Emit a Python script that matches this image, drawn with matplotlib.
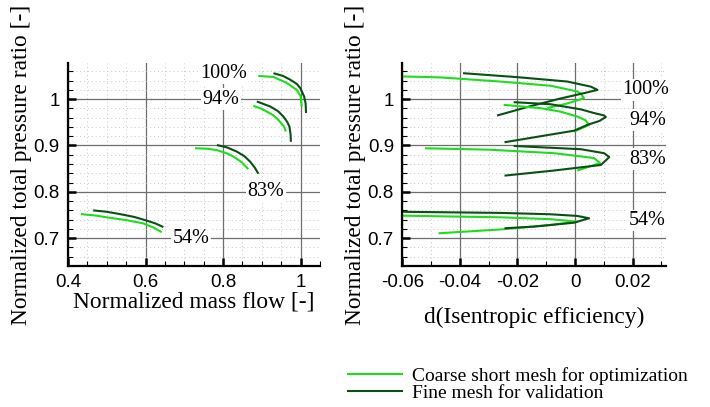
import matplotlib
matplotlib.use('Agg')
import matplotlib.pyplot as plt
from matplotlib.ticker import MultipleLocator, FuncFormatter

COARSE = '#1edc1e'
FINE = '#0a5014'

speeds = ['100%', '94%', '83%', '54%']

# left plot: normalized mass flow / normalized total pressure ratio
mf_coarse_100 = [0.891, 0.930, 0.964, 0.990, 1.000, 1.003]
pr_coarse_100 = [1.050, 1.048, 1.035, 1.020, 1.006, 0.984]
mf_fine_100 = [0.930, 0.955, 0.973, 0.990, 0.999, 1.009, 1.013, 1.014]
pr_fine_100 = [1.056, 1.050, 1.042, 1.033, 1.024, 1.006, 0.990, 0.970]

mf_coarse_94 = [0.878, 0.900, 0.913, 0.930, 0.943, 0.957, 0.962]
pr_coarse_94 = [0.9855, 0.979, 0.973, 0.965, 0.955, 0.941, 0.930]
mf_fine_94 = [0.887, 0.922, 0.942, 0.956, 0.966, 0.971, 0.974, 0.975]
pr_fine_94 = [0.995, 0.984, 0.974, 0.962, 0.950, 0.941, 0.925, 0.908]

mf_coarse_83 = [0.728, 0.760, 0.784, 0.810, 0.827, 0.848, 0.865]
pr_coarse_83 = [0.894, 0.893, 0.890, 0.883, 0.876, 0.864, 0.849]
mf_fine_83 = [0.784, 0.810, 0.835, 0.855, 0.870, 0.882, 0.891]
pr_fine_83 = [0.901, 0.896, 0.887, 0.877, 0.865, 0.852, 0.839]

mf_coarse_54 = [0.433, 0.470, 0.508, 0.550, 0.594, 0.620, 0.642]
pr_coarse_54 = [0.752, 0.749, 0.744, 0.739, 0.732, 0.723, 0.713]
mf_fine_54 = [0.465, 0.500, 0.534, 0.570, 0.603, 0.625, 0.646]
pr_fine_54 = [0.760, 0.757, 0.752, 0.746, 0.738, 0.732, 0.724]

# right plot: d(isentropic efficiency) / pressure ratio
de_coarse_100 = [-0.0598, -0.047, -0.026, -0.0085, 0.0008, 0.002, 0.0031, -0.003, -0.0096]
pe_coarse_100 = [1.049, 1.047, 1.038, 1.029, 1.0165, 1.012, 1.002, 0.990, 0.981]
de_fine_100 = [-0.0389, -0.0201, -0.0027, 0.0055, 0.0078, 0.0035, -0.005, -0.016, -0.0271]
pe_fine_100 = [1.056, 1.0475, 1.038, 1.027, 1.020, 1.0135, 1.0015, 0.984, 0.9646]

de_coarse_94 = [-0.0248, -0.012, -0.005, 0.0008, 0.0035, 0.0049, -0.0003]
pe_coarse_94 = [0.9877, 0.9806, 0.973, 0.9624, 0.955, 0.9445, 0.930]
de_fine_94 = [-0.0213, -0.0085, 0.002, 0.0066, 0.0100, 0.0107, 0.0085, 0.0043, -0.0003, -0.0245]
pe_fine_94 = [0.9935, 0.989, 0.978, 0.970, 0.965, 0.9615, 0.953, 0.9445, 0.932, 0.907]

de_coarse_83 = [-0.0521, -0.030, -0.0073, 0.0066, 0.0087, 0.0008]
pe_coarse_83 = [0.894, 0.891, 0.8834, 0.873, 0.862, 0.846]
de_fine_83 = [-0.0213, 0.002, 0.0101, 0.0119, 0.009, -0.0073, -0.0245]
pe_fine_83 = [0.899, 0.892, 0.8834, 0.875, 0.858, 0.846, 0.835]

de_coarse_54 = [-0.060, -0.0255, -0.0085, 0.0008, -0.0085, -0.0255, -0.0474]
pe_coarse_54 = [0.7486, 0.745, 0.741, 0.7356, 0.7285, 0.719, 0.7106]
de_fine_54 = [-0.060, -0.0255, -0.0085, 0.0008, 0.0049, -0.0003, -0.0143, -0.0245]
pe_fine_54 = [0.757, 0.7545, 0.7516, 0.748, 0.743, 0.7335, 0.725, 0.7214]

# where the speed labels sit
lab_mf = [0.801, 0.794, 0.910, 0.717]
lab_pr_left = [1.056, 1.0, 0.8, 0.7]
lab_de = [0.0245, 0.0253, 0.0253, 0.0250]
lab_pr_right = [1.020, 0.955, 0.870, 0.738]

left_curves = [
    (mf_coarse_100, pr_coarse_100, mf_fine_100, pr_fine_100),
    (mf_coarse_94, pr_coarse_94, mf_fine_94, pr_fine_94),
    (mf_coarse_83, pr_coarse_83, mf_fine_83, pr_fine_83),
    (mf_coarse_54, pr_coarse_54, mf_fine_54, pr_fine_54),
]
right_curves = [
    (de_coarse_100, pe_coarse_100, de_fine_100, pe_fine_100),
    (de_coarse_94, pe_coarse_94, de_fine_94, pe_fine_94),
    (de_coarse_83, pe_coarse_83, de_fine_83, pe_fine_83),
    (de_coarse_54, pe_coarse_54, de_fine_54, pe_fine_54),
]

SERIF = 'Liberation Serif'
SANS = 'Liberation Sans'
plt.rcParams['axes.unicode_minus'] = False


def style_axes(ax, xmajor, xminor):
    ax.set_ylim(0.64, 1.078)
    ax.xaxis.set_major_locator(MultipleLocator(xmajor))
    ax.xaxis.set_minor_locator(MultipleLocator(xminor))
    ax.yaxis.set_major_locator(MultipleLocator(0.1))
    ax.yaxis.set_minor_locator(MultipleLocator(0.02))
    fmt = FuncFormatter(lambda v, p: '{:g}'.format(round(v, 6)))
    ax.xaxis.set_major_formatter(fmt)
    ax.yaxis.set_major_formatter(fmt)
    for s in ['top', 'right']:
        ax.spines[s].set_visible(False)
    for s in ['left', 'bottom']:
        ax.spines[s].set_linewidth(1.6)
    ax.grid(which='major', color='#6e6e6e', lw=0.9)
    ax.grid(which='minor', color='#c8c8c8', lw=0.7, ls=(0, (1, 3)))
    ax.set_axisbelow(True)
    ax.tick_params(which='major', direction='in', length=6, width=1.8,
                   labelsize=13.5, pad=6)
    ax.tick_params(which='minor', direction='in', length=3.5, width=0.8)
    for lab in ax.get_xticklabels() + ax.get_yticklabels():
        lab.set_family(SANS)
    ax.set_ylabel('Normalized total pressure ratio [-]', family=SERIF,
                  fontsize=16.8, labelpad=1)


fig = plt.figure(figsize=(7.1, 4.07), dpi=100)
ax1 = fig.add_axes([68 / 710, 1 - 266 / 407, 252 / 710, 203 / 407])
ax2 = fig.add_axes([402.3 / 710, 1 - 266 / 407, 263.7 / 710, 203 / 407])

for xc, yc, xf, yf in left_curves:
    ax1.plot(xc, yc, color=COARSE, lw=1.5, solid_capstyle='butt')
    ax1.plot(xf, yf, color=FINE, lw=1.5, solid_capstyle='butt')
for xc, yc, xf, yf in right_curves:
    lc, = ax2.plot(xc, yc, color=COARSE, lw=1.5, solid_capstyle='butt')
    lf, = ax2.plot(xf, yf, color=FINE, lw=1.5, solid_capstyle='butt')

box = dict(facecolor='white', edgecolor='none', pad=1.0)
for name, x, y in zip(speeds, lab_mf, lab_pr_left):
    ax1.text(x, y, name, family=SERIF, fontsize=14.5, ha='center',
             va='center', bbox=box, zorder=3)
for name, x, y in zip(speeds, lab_de, lab_pr_right):
    ax2.text(x, y, name, family=SERIF, fontsize=14.5, ha='center',
             va='center', bbox=box, zorder=3)

ax1.set_xlim(0.4, 1.05)
ax2.set_xlim(-0.06, 0.0316)
style_axes(ax1, 0.2, 0.05)
style_axes(ax2, 0.02, 0.01)
ax1.set_xlabel('Normalized mass flow [-]', family=SERIF, fontsize=16.8,
               labelpad=0)
ax2.set_xlabel('d(Isentropic efficiency)', family=SERIF, fontsize=16.8,
               labelpad=11)

fig.legend([lc, lf], ['Coarse short mesh for optimization',
                      'Fine mesh for validation'],
           loc='upper left', bbox_to_anchor=(347 / 710, 1 - 367 / 407),
           frameon=False, borderpad=0, borderaxespad=0,
           handlelength=2.9, handletextpad=0.45, labelspacing=-0.05,
           prop={'family': SERIF, 'size': 14})

fig.savefig('out.png', dpi=100)
